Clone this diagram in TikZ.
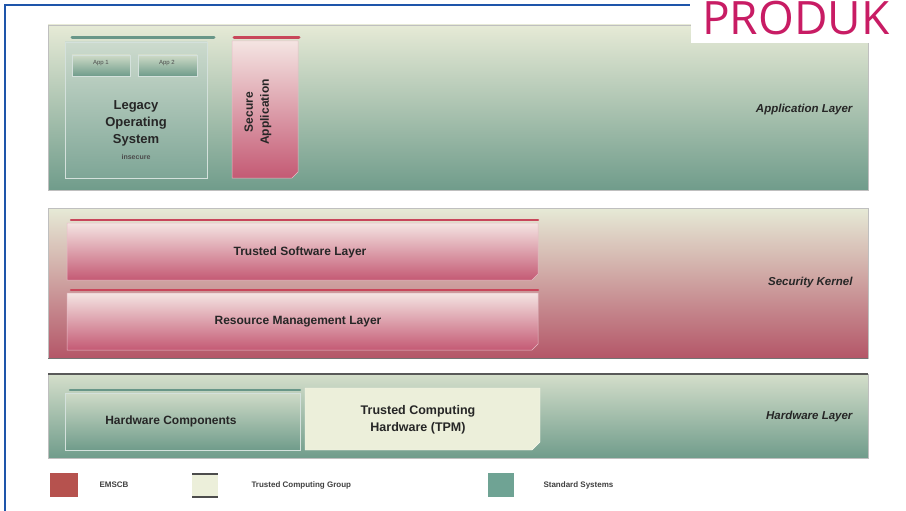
\documentclass[tikz,border=0pt]{standalone}
\usepackage{fontspec}
\setmainfont{Liberation Sans}
\newfontfamily\brandfont{Open Sans}
\usetikzlibrary{positioning}
\definecolor{frameblue}{RGB}{30,85,170}
\definecolor{brandmag}{RGB}{200,28,100}
\definecolor{paletop}{RGB}{230,234,214}
\definecolor{tealbot}{RGB}{112,156,139}
\definecolor{tealbar}{RGB}{104,150,136}
\definecolor{pinktop}{RGB}{244,228,226}
\definecolor{redbot}{RGB}{196,90,116}
\definecolor{kernelmid}{RGB}{222,178,184}
\definecolor{kernelbot}{RGB}{180,86,104}
\definecolor{redbar}{RGB}{200,70,90}
\definecolor{cream}{RGB}{236,239,218}
\definecolor{legred}{RGB}{182,82,78}
\definecolor{legteal}{RGB}{111,163,148}
\tikzset{
  panel/.style={draw=black!25, line width=0.6pt},
  tealbox/.style={top color=paletop!80!tealbot, bottom color=tealbot, draw=white!70!tealbot, line width=0.5pt},
  pinkbox/.style={top color=pinktop, bottom color=redbot, draw=white!60!redbot, line width=0.5pt},
  toptealbar/.style={tealbar, line width=3pt, line cap=round},
  topredbar/.style={redbar, line width=3pt, line cap=round},
  boxlabel/.style={font=\bfseries\fontsize{13}{17}\selectfont, text=black!85, align=center},
  layerlabel/.style={font=\bfseries\itshape\fontsize{11.5}{14}\selectfont, text=black!85, anchor=east},
  leglabel/.style={font=\bfseries\fontsize{8}{9}\selectfont, text=black!75, anchor=west},
  applabel/.style={font=\fontsize{6}{7}\selectfont, text=black!70}
}
\begin{document}
\begin{tikzpicture}[x=1pt,y=-1pt]
\useasboundingbox (0,0) rectangle (906,511);
\fill[white] (0,0) rectangle (906,511);

% page frame
\draw[frameblue, line width=2.5pt] (5,511) -- (5,5) -- (690,5);

% ---------------- application layer ----------------
\shade[panel, top color=paletop, bottom color=tealbot] (48,25) rectangle (868,190);
\node[layerlabel] (applayer) at (856,110) {Application Layer};

% legacy operating system
\shade[tealbox, top color=paletop!60!tealbot!70, bottom color=tealbot!90] (65,42) rectangle (207,178);
\draw[toptealbar] (72,38) -- (214,38);
\shade[tealbox] (72,55) rectangle (130,76);
\shade[tealbox] (138,55) rectangle (197,76);
\node[applabel] (app1) at (101,63) {App 1};
\node[applabel] (app2) at (167,63) {App 2};
\node[boxlabel] (legacy) at (136,123) {Legacy\\Operating\\System};
\node[font=\bfseries\fontsize{7}{8}\selectfont, text=black!70] (insecure) at (136,157) {insecure};

% secure application
\shade[pinkbox] (232,41) -- (298,41) -- (298,172) -- (292,178) -- (232,178) -- cycle;
\draw[topredbar] (234,38) -- (299,38);
\node[boxlabel, rotate=90, font=\bfseries\fontsize{12}{16}\selectfont] (secapp) at (258,112) {Secure\\Application};

% ---------------- security kernel ----------------
\shade[panel, top color=paletop, middle color=kernelmid, bottom color=kernelbot] (48,208) rectangle (868,358);
\draw[black!55, line width=1pt] (48,358) -- (868,358);
\node[layerlabel] (kernel) at (856,283) {Security Kernel};

\shade[pinkbox] (67,223) -- (538,223) -- (538,274) -- (532,280) -- (67,280) -- cycle;
\draw[topredbar, line width=2.5pt] (71,220) -- (538,220);
\node[boxlabel, font=\bfseries\fontsize{12}{14}\selectfont] (tsl) at (300,252) {Trusted Software Layer};

\shade[pinkbox] (67,293) -- (538,293) -- (538,344) -- (532,350) -- (67,350) -- cycle;
\draw[topredbar, line width=2.5pt] (71,290) -- (538,290);
\node[boxlabel, font=\bfseries\fontsize{12}{14}\selectfont] (rml) at (298,322) {Resource Management Layer};

% ---------------- hardware layer ----------------
\shade[panel, top color=paletop!85!tealbot, bottom color=tealbot] (48,374) rectangle (868,458);
\draw[black!65, line width=1.2pt] (48,374) -- (868,374);
\node[layerlabel] (hwlayer) at (856,417) {Hardware Layer};

\shade[tealbox] (65,393) rectangle (300,450);
\draw[toptealbar, line width=2.5pt] (70,390) -- (300,390);
\node[boxlabel, font=\bfseries\fontsize{12}{14}\selectfont] (hwcomp) at (171,421) {Hardware Components};

\fill[cream, draw=white!60!cream] (305,388) -- (540,388) -- (540,442) -- (532,450) -- (305,450) -- cycle;
\node[boxlabel, font=\bfseries\fontsize{12.5}{17}\selectfont] (tpm) at (418,420) {Trusted Computing\\Hardware (TPM)};

% ---------------- legend ----------------
\fill[legred] (50,473) rectangle (78,497);
\node[leglabel] (legemscb) at (96,485) {EMSCB};

\fill[cream] (192,474) rectangle (218,497);
\draw[black!70, line width=1.2pt] (192,474) -- (218,474) (192,497) -- (218,497);
\node[leglabel] (legtcg) at (248,485) {Trusted Computing Group};

\fill[legteal] (488,473) rectangle (514,497);
\node[leglabel] (legstd) at (540,485) {Standard Systems};

% heading tab, laid over the top right corner
\fill[white] (691,0) rectangle (906,43);
\node[anchor=base west, inner sep=0pt, text=brandmag, font=\brandfont\fontsize{46}{46}\selectfont] (brand) at (702,35) {PRODUK};
\end{tikzpicture}
\end{document}
